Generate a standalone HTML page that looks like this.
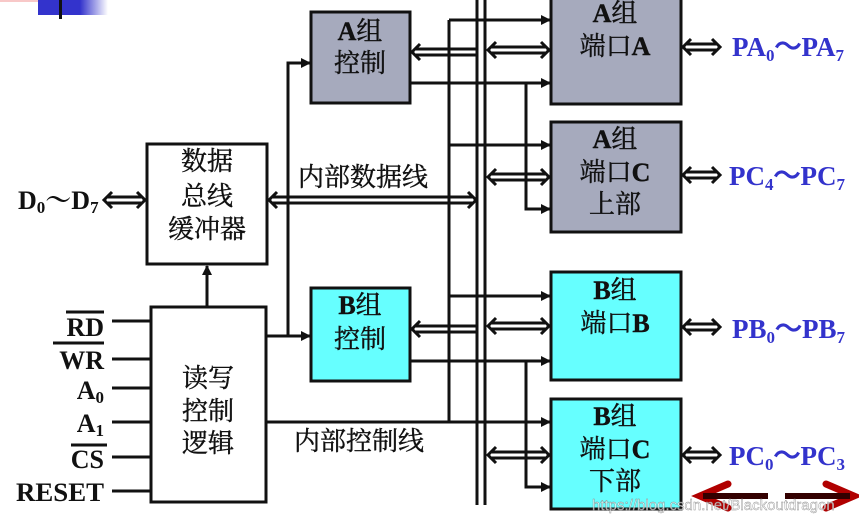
<!DOCTYPE html>
<html><head><meta charset="utf-8"><style>
html,body{margin:0;padding:0;background:#fff;}
svg{display:block;}
.cn{font-family:"Liberation Serif","Noto Serif CJK SC",serif;font-size:26px;fill:#111;stroke:#111;stroke-width:0.4;}
.b{font-family:"Liberation Serif","Noto Serif CJK SC",serif;font-weight:bold;font-size:26px;fill:#111;}
.p{font-family:"Liberation Serif",serif;font-weight:bold;font-size:27px;fill:#3333cc;}
.l{stroke:#111;stroke-width:3;fill:none;}
.d{stroke:#111;stroke-width:3;fill:none;}
</style></head><body>
<svg width="859" height="524" viewBox="0 0 859 524" xmlns="http://www.w3.org/2000/svg">
<defs>
<linearGradient id="g" x1="0" x2="1"><stop offset="0.6" stop-color="#3333cc"/><stop offset="1" stop-color="#fff"/></linearGradient>
<marker id="ar" markerWidth="10" markerHeight="10" refX="9" refY="5" orient="auto" markerUnits="userSpaceOnUse"><path d="M0,0 L10,5 L0,10 Z" fill="#111"/></marker>
</defs>
<rect x="0" y="0" width="52" height="2" fill="#f8c8c8"/>
<rect x="38" y="0" width="70" height="15" fill="url(#g)"/>
<rect x="59" y="0" width="3" height="19" fill="#111"/>

<rect x="311" y="12" width="99" height="91" fill="#a6aabd" stroke="#111" stroke-width="3"/>
<rect x="147" y="144" width="120" height="120" fill="#fff" stroke="#111" stroke-width="3"/>
<rect x="151" y="307" width="115" height="195" fill="#fff" stroke="#111" stroke-width="3"/>
<rect x="311" y="288" width="99" height="93" fill="#66ffff" stroke="#111" stroke-width="3"/>
<rect x="551" y="-5" width="130" height="109" fill="#a6aabd" stroke="#111" stroke-width="3"/>
<rect x="551" y="122" width="130" height="110" fill="#a6aabd" stroke="#111" stroke-width="3"/>
<rect x="551" y="272" width="130" height="108" fill="#66ffff" stroke="#111" stroke-width="3"/>
<rect x="551" y="399" width="130" height="110" fill="#66ffff" stroke="#111" stroke-width="3"/>

<text class="cn" x="360" y="40" text-anchor="middle"><tspan class="b">A</tspan>组</text>
<text class="cn" x="360" y="72" text-anchor="middle">控制</text>
<text class="cn" x="207" y="170" text-anchor="middle">数据</text>
<text class="cn" x="207" y="205" text-anchor="middle">总线</text>
<text class="cn" x="207" y="238" text-anchor="middle">缓冲器</text>
<text class="cn" x="208" y="387" text-anchor="middle">读写</text>
<text class="cn" x="208" y="420" text-anchor="middle">控制</text>
<text class="cn" x="208" y="452" text-anchor="middle">逻辑</text>
<text class="cn" x="360" y="314" text-anchor="middle"><tspan class="b">B</tspan>组</text>
<text class="cn" x="360" y="348" text-anchor="middle">控制</text>
<text class="cn" x="615" y="22" text-anchor="middle"><tspan class="b">A</tspan>组</text>
<text class="cn" x="615" y="55" text-anchor="middle">端口<tspan class="b">A</tspan></text>
<text class="cn" x="615" y="148" text-anchor="middle"><tspan class="b">A</tspan>组</text>
<text class="cn" x="615" y="181" text-anchor="middle">端口<tspan class="b">C</tspan></text>
<text class="cn" x="615" y="213" text-anchor="middle">上部</text>
<text class="cn" x="615" y="299" text-anchor="middle"><tspan class="b">B</tspan>组</text>
<text class="cn" x="615" y="332" text-anchor="middle">端口<tspan class="b">B</tspan></text>
<text class="cn" x="615" y="425" text-anchor="middle"><tspan class="b">B</tspan>组</text>
<text class="cn" x="615" y="458" text-anchor="middle">端口<tspan class="b">C</tspan></text>
<text class="cn" x="615" y="490" text-anchor="middle">下部</text>
<text class="cn" x="298" y="186">内部数据线</text>
<text class="cn" x="294" y="450">内部控制线</text>

<line class="l" x1="477" y1="0" x2="477" y2="505"/>
<line class="l" x1="485" y1="0" x2="485" y2="505"/>
<line class="l" x1="449" y1="20" x2="449" y2="422"/>
<line class="l" x1="449" y1="20" x2="550" y2="20" marker-end="url(#ar)"/>
<line class="l" x1="449" y1="145" x2="550" y2="145" marker-end="url(#ar)"/>
<line class="l" x1="449" y1="296" x2="550" y2="296" marker-end="url(#ar)"/>
<line class="l" x1="266" y1="422" x2="550" y2="422" marker-end="url(#ar)"/>
<line class="l" x1="207" y1="307" x2="207" y2="266" marker-end="url(#ar)"/>
<polyline class="l" points="288,336 288,63 310,63" marker-end="url(#ar)"/>
<line class="l" x1="266" y1="336" x2="310" y2="336" marker-end="url(#ar)"/>
<line class="l" x1="410" y1="83" x2="550" y2="83" marker-end="url(#ar)"/>
<polyline class="l" points="526,83 526,209 550,209" marker-end="url(#ar)"/>
<line class="l" x1="410" y1="361" x2="550" y2="361" marker-end="url(#ar)"/>
<polyline class="l" points="526,361 526,487 550,487" marker-end="url(#ar)"/>

<g class="d">
<path d="M108,197 H141 M108,203 H141 M112,192 L104,200 L112,208 M137,192 L145,200 L137,208"/>
<path d="M273,197 H472 M273,203 H472 M277,192 L269,200 L277,208 M468,192 L476,200 L468,208"/>
<path d="M416,49 H477 M416,55 H477 M420,44 L412,52 L420,60"/>
<path d="M416,326 H477 M416,332 H477 M420,321 L412,329 L420,337"/>
<path d="M492,47 H545 M492,53 H545 M496,42 L488,50 L496,58 M541,42 L549,50 L541,58"/>
<path d="M492,174 H545 M492,180 H545 M496,169 L488,177 L496,185 M541,169 L549,177 L541,185"/>
<path d="M492,323 H545 M492,329 H545 M496,318 L488,326 L496,334 M541,318 L549,326 L541,334"/>
<path d="M492,452 H545 M492,458 H545 M496,447 L488,455 L496,463 M541,447 L549,455 L541,463"/>
<path d="M687,44 H716 M687,50 H716 M691,39 L683,47 L691,55 M712,39 L720,47 L712,55"/>
<path d="M687,172 H716 M687,178 H716 M691,167 L683,175 L691,183 M712,167 L720,175 L712,183"/>
<path d="M687,324 H716 M687,330 H716 M691,319 L683,327 L691,335 M712,319 L720,327 L712,335"/>
<path d="M687,452 H716 M687,458 H716 M691,447 L683,455 L691,463 M712,447 L720,455 L712,463"/>
</g>

<text class="p" x="732" y="56">PA<tspan font-size="17" dy="5">0</tspan><tspan dy="-5">～PA</tspan><tspan font-size="17" dy="5">7</tspan></text>
<text class="p" x="729" y="185">PC<tspan font-size="17" dy="5">4</tspan><tspan dy="-5">～PC</tspan><tspan font-size="17" dy="5">7</tspan></text>
<text class="p" x="732" y="338">PB<tspan font-size="17" dy="5">0</tspan><tspan dy="-5">～PB</tspan><tspan font-size="17" dy="5">7</tspan></text>
<text class="p" x="729" y="465">PC<tspan font-size="17" dy="5">0</tspan><tspan dy="-5">～PC</tspan><tspan font-size="17" dy="5">3</tspan></text>

<text class="b" x="18" y="209" font-size="27">D<tspan font-size="17" dy="4">0</tspan><tspan dy="-4">～D</tspan><tspan font-size="17" dy="4">7</tspan></text>

<g class="l">
<line x1="112" y1="321" x2="150" y2="321"/>
<line x1="112" y1="359" x2="150" y2="359"/>
<line x1="112" y1="388" x2="150" y2="388"/>
<line x1="112" y1="422" x2="150" y2="422"/>
<line x1="112" y1="457" x2="150" y2="457"/>
<line x1="112" y1="491" x2="150" y2="491"/>
<line x1="66" y1="312" x2="104" y2="312"/>
<line x1="53" y1="343" x2="104" y2="343"/>
<line x1="71" y1="445" x2="107" y2="445"/>
</g>
<text class="b" x="104" y="336" text-anchor="end">RD</text>
<text class="b" x="104" y="369" text-anchor="end">WR</text>
<text class="b" x="104" y="399" text-anchor="end">A<tspan font-size="17" dy="4">0</tspan></text>
<text class="b" x="104" y="432" text-anchor="end">A<tspan font-size="17" dy="4">1</tspan></text>
<text class="b" x="104" y="468" text-anchor="end">CS</text>
<text class="b" x="104" y="501" text-anchor="end" font-size="26" textLength="88" lengthAdjust="spacingAndGlyphs">RESET</text>

<path d="M728,484 L700,496 L728,508" stroke="#b00000" stroke-width="7" fill="none" stroke-linecap="round"/>
<line x1="703" y1="496" x2="768" y2="496" stroke="#300" stroke-width="6"/>
<path d="M826,484 L854,496 L826,508" stroke="#b00000" stroke-width="7" fill="none" stroke-linecap="round"/>
<line x1="785" y1="496" x2="850" y2="496" stroke="#300" stroke-width="6"/>
<text x="592" y="510" font-family="Liberation Sans,sans-serif" font-size="15" fill="#fff" fill-opacity="0.7" stroke="#888" stroke-width="0.4">https://blog.csdn.net/Blackoutdragon</text>
</svg>
</body></html>
